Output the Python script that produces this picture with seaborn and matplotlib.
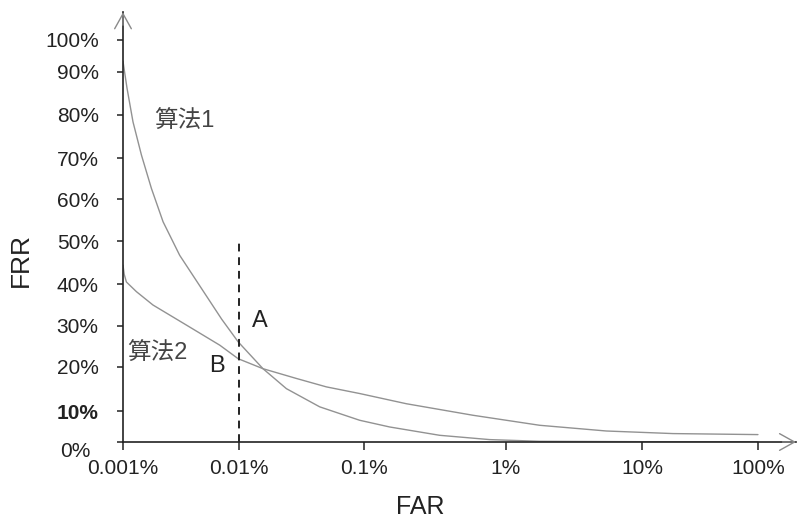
import numpy as np
import pandas as pd
import matplotlib
matplotlib.use("Agg")
import matplotlib.pyplot as plt
import seaborn as sns

# FAR (%) / FRR (%)
far_alg1 = [0.001, 0.001083, 0.00122, 0.001443, 0.00176, 0.00222, 0.00309, 0.00476,
            0.00713, 0.0099, 0.01563, 0.02403, 0.0443, 0.064, 0.0924, 0.1518, 0.342,
            0.771, 1.776, 10, 100]
frr_alg1 = [93.2, 86.2, 78.4, 70.7, 62.6, 54.6, 46.7, 39.0,
            31.6, 26.1, 19.6, 15.1, 11.0, 9.25, 7.07, 4.89, 2.18,
            0.78, 0.23, 0.1, 0.1]
far_alg2 = [0.001, 0.001024, 0.00107, 0.001306, 0.001816, 0.00353, 0.00686, 0.0099,
            0.01563, 0.02887, 0.0501, 0.064, 0.0924, 0.1991, 0.5877, 1.776, 5.48,
            18.5, 100]
frr_alg2 = [44.4, 42.3, 40.5, 38.2, 35.0, 30.2, 25.3, 22.0,
            19.6, 17.4, 15.5, 14.9, 14.0, 11.7, 8.7, 5.44, 3.58,
            2.74, 2.41]
algo_names = ["算法1", "算法2"]

x_ticks = [0.001, 0.01, 0.1, 1, 10, 100]
x_tick_labels = ["0.001%", "0.01%", "0.1%", "1%", "10%", "100%"]
y_ticks = [0, 10, 20, 30, 40, 50, 60, 70, 80, 90, 100]
y_tick_labels = ["", "10%", "20%", "30%", "40%", "50%", "60%", "70%", "80%", "90%", "100%"]

threshold_far = 0.01   # dashed line
threshold_top = 50

# the original axes are hand drawn: decades and 10% steps are not evenly spaced
X_KNOTS = [-4, -3, -2, -1, 0, 1, 2, 3]
X_UNITS = [-115.7, 0, 115.7, 241, 382.7, 519, 635, 751]
Y_KNOTS = [-10, 0, 10, 20, 30, 40, 50, 60, 70, 80, 90, 100, 110]
Y_UNITS = [-30.7, 0, 30.7, 75, 116, 157.7, 200.7, 242.7, 283.7, 326.7, 370, 401.7, 433.4]


def fwd_x(v):
    v = np.asarray(v, dtype=float)
    return np.interp(np.log10(np.clip(v, 1e-12, None)), X_KNOTS, X_UNITS)


def inv_x(u):
    return 10 ** np.interp(np.asarray(u, dtype=float), X_UNITS, X_KNOTS)


def fwd_y(v):
    return np.interp(np.asarray(v, dtype=float), Y_KNOTS, Y_UNITS)


def inv_y(u):
    return np.interp(np.asarray(u, dtype=float), Y_UNITS, Y_KNOTS)


df = pd.concat([
    pd.DataFrame({"FAR": far_alg1, "FRR": frr_alg1, "algo": algo_names[0]}),
    pd.DataFrame({"FAR": far_alg2, "FRR": frr_alg2, "algo": algo_names[1]}),
])

sns.set_theme(style="white")
plt.rcParams["font.family"] = ["Liberation Sans", "Noto Sans CJK SC", "DejaVu Sans"]

fig = plt.figure(figsize=(7.97, 5.19), dpi=100)
ax = fig.add_axes([123 / 797, 77 / 519, 673 / 797, 429.7 / 519])

sns.lineplot(data=df, x="FAR", y="FRR", hue="algo", palette=["#929292", "#929292"],
             linewidth=1.0, legend=False, sort=False, estimator=None, ax=ax)
ax.vlines(threshold_far, 0, threshold_top, colors="#222222", linestyles=(0, (4, 3)), linewidth=1.4)

ax.set_xscale("function", functions=(fwd_x, inv_x))
ax.set_yscale("function", functions=(fwd_y, inv_y))
ax.set_xlim(0.001, 212.8)
ax.set_ylim(0, 108.7)

ax.set_xticks(x_ticks)
ax.set_xticklabels(x_tick_labels)
ax.set_yticks(y_ticks)
ax.set_yticklabels(y_tick_labels)
ax.minorticks_off()
ax.get_yticklabels()[1].set_fontweight("bold")

ax.tick_params(axis="x", direction="out", length=6, width=1.1, pad=6,
               labelsize=15, colors="#222222", bottom=True)
ax.tick_params(axis="y", direction="out", length=4.5, width=1.1, pad=13,
               labelsize=15, colors="#222222", left=True)

sns.despine(ax=ax)
for side in ["left", "bottom"]:
    ax.spines[side].set_color("#222222")
    ax.spines[side].set_linewidth(1.2)

# "0%" sits below-left of the origin in the original
ax.annotate("0%", xy=(0, 0), xycoords="axes fraction", xytext=(-23.5, -6.8),
            textcoords="offset points", ha="right", va="center", fontsize=15, color="#222222")

# axis arrow heads
arrow_kw = dict(arrowstyle="->,head_length=0.9,head_width=0.5", color="#8a8a8a",
                lw=1.0, shrinkA=0, shrinkB=0)
ax.annotate("", xy=(0, 1.0), xycoords="axes fraction", xytext=(0, 0.97),
            arrowprops=arrow_kw, annotation_clip=False)
ax.annotate("", xy=(1.0, 0), xycoords="axes fraction", xytext=(0.98, 0),
            arrowprops=arrow_kw, annotation_clip=False)

ax.set_xlabel("FAR", fontsize=18, color="#222222")
ax.set_ylabel("FRR", fontsize=19, color="#222222")
ax.xaxis.set_label_coords(0.441, -0.124)
ax.yaxis.set_label_coords(-0.134, 0.424)

# curve names and the A / B points
ax.text(0.0034, 78.4, algo_names[0], fontsize=17, color="#444444", ha="center", va="center")
ax.text(0.002, 23.1, algo_names[1], fontsize=17, color="#444444", ha="center", va="center")
ax.text(0.0147, 31.1, "A", fontsize=17, color="#222222", ha="center", va="center")
ax.text(0.0065, 20.2, "B", fontsize=17, color="#222222", ha="center", va="center")

fig.savefig("out.png", dpi=100)
